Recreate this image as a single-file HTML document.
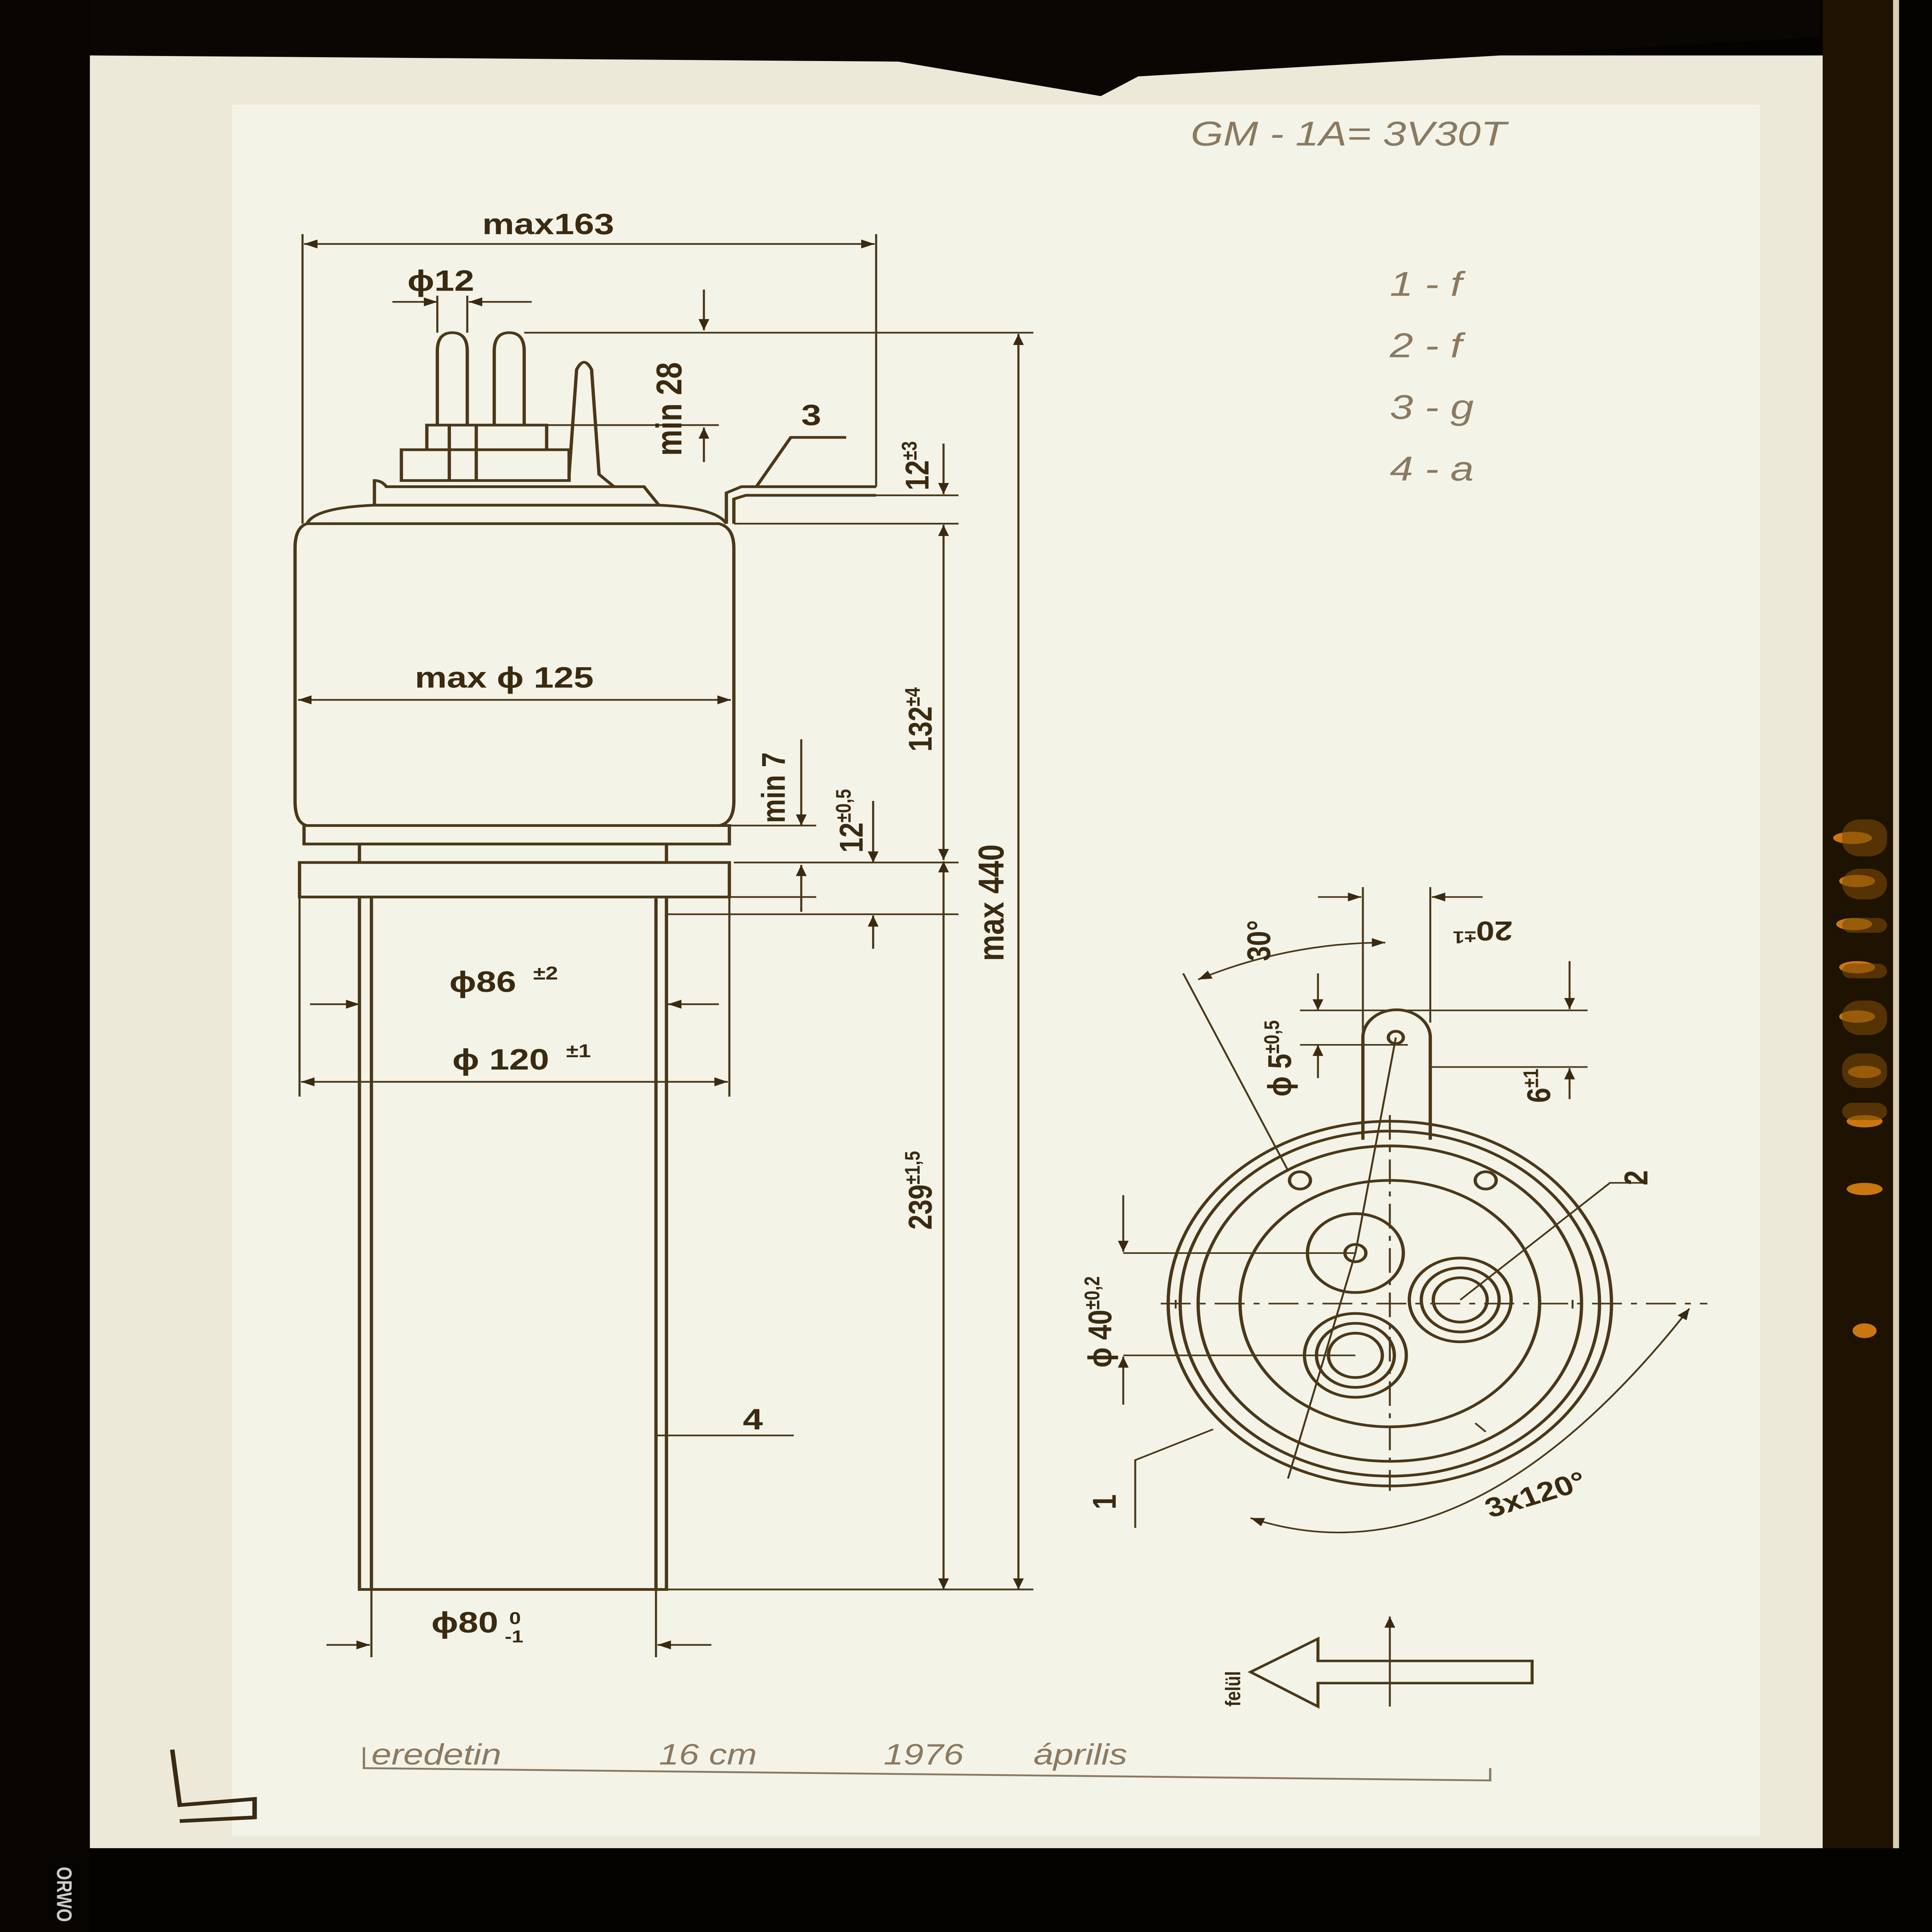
<!DOCTYPE html>
<html><head><meta charset="utf-8"><style>
html,body{margin:0;padding:0;background:#000;width:100%;height:100%;overflow:hidden;}
svg{display:block;position:fixed;left:0;top:0;width:100vw;height:100vh;}
text{font-family:"Liberation Sans",sans-serif;fill:#3a2a10;font-weight:bold;}
.h{font-family:"Liberation Sans",sans-serif;fill:#8a7a60;font-weight:normal;font-style:italic;}
</style></head><body>
<svg viewBox="0 0 1290 1568" preserveAspectRatio="none" xmlns="http://www.w3.org/2000/svg">
<defs>
<marker id="a" viewBox="0 0 10 10" refX="10" refY="5" markerWidth="14" markerHeight="9" markerUnits="userSpaceOnUse" orient="auto-start-reverse"><path d="M0,1 L10,5 L0,9z" fill="#3a2a10"/></marker>
</defs>
<rect width="1290" height="1568" fill="#050300"/>
<rect x="1217" y="0" width="48" height="1568" fill="#1e1200"/>
<rect x="1264" y="0" width="4" height="1568" fill="#d8d0b0"/>
<g fill="#e88a10" opacity="0.85">
<ellipse cx="1237" cy="680" rx="13" ry="5"/><ellipse cx="1240" cy="715" rx="12" ry="5"/><ellipse cx="1238" cy="750" rx="12" ry="5"/><ellipse cx="1240" cy="785" rx="12" ry="5"/><ellipse cx="1240" cy="825" rx="12" ry="5"/><ellipse cx="1245" cy="870" rx="11" ry="5"/><ellipse cx="1245" cy="910" rx="12" ry="5"/><ellipse cx="1245" cy="965" rx="12" ry="5"/><ellipse cx="1245" cy="1080" rx="8" ry="6"/>
</g>
<g fill="#7a4a08" opacity="0.6">
<rect x="1230" y="665" width="30" height="30" rx="12"/><rect x="1230" y="705" width="30" height="25" rx="12"/><rect x="1230" y="745" width="30" height="12" rx="6"/><rect x="1230" y="782" width="30" height="12" rx="6"/><rect x="1230" y="812" width="30" height="28" rx="12"/><rect x="1230" y="855" width="30" height="28" rx="12"/><rect x="1230" y="895" width="30" height="14" rx="7"/>
</g>
<rect x="60" y="45" width="1157" height="1455" fill="#ece9d9"/>
<rect x="155" y="85" width="1020" height="1405" fill="#f3f3e8"/>
<path d="M20,0 L1215,0 L1215,30 L760,62 L735,78 L600,50 L60,45 L20,40z" fill="#0a0702"/>
<rect x="0" y="1500" width="1290" height="68" fill="#050300"/>
<rect x="0" y="0" width="60" height="1568" fill="#070401"/>
<text x="38" y="1515" transform="rotate(90 38 1515)" style="fill:#ccc;font-size:14px">ORWO</text>

<g stroke="#4a3818" stroke-width="2.2" fill="none">
<path d="M292,345 L292,285 Q292,270 302,270 Q312,270 312,285 L312,345"/>
<path d="M330,345 L330,285 Q330,270 340,270 Q350,270 350,285 L350,345"/>
<path d="M380,385 L385,300 Q390,288 395,300 L400,385 L410,395"/>
<path d="M285,345 L365,345 L365,365 L285,365z M268,365 L380,365 L380,390 L268,390z M250,390 Q255,390 258,395 L430,395 L440,410 L250,410z"/>
<path d="M205,425 Q210,412 250,410 L440,410 Q478,412 485,425"/>
<path d="M300,345 L300,390 M318,345 L318,390"/>
<path d="M205,425 L480,425 Q490,428 490,445 L490,650 Q490,668 480,670 L205,670 Q197,668 197,650 L197,445 Q197,428 205,425z"/>
<path d="M203,670 L487,670 L487,685 L203,685z"/>
<rect x="240" y="685" width="205" height="15"/>
<rect x="200" y="700" width="287" height="28"/>
<path d="M240,728 L240,1290 L445,1290 L445,728 M248,728 L248,1290 M438,728 L438,1290"/>
<path d="M485,425 L485,400 L495,395 L585,395 M490,425 L490,405 L498,402 L585,402 M505,395 L528,355 L565,355"/>
</g>
<g stroke="#4a3818" stroke-width="1.4" fill="none">
<path d="M202,425 L202,190 M585,395 L585,190"/>
<path d="M203,198 L584,198" marker-start="url(#a)" marker-end="url(#a)"/>
<path d="M292,270 L292,240 M312,270 L312,240 M262,245 L292,245" marker-end="url(#a)"/>
<path d="M355,245 L313,245" marker-end="url(#a)"/>
<path d="M350,270 L690,270"/>
<path d="M470,235 L470,268" marker-end="url(#a)"/>
<path d="M470,375 L470,347" marker-end="url(#a)"/>
<path d="M350,345 L480,345"/>
<path d="M575,402 L640,402 M490,425 L640,425"/>
<path d="M630,360 L630,401" marker-end="url(#a)"/>
<path d="M630,426 L630,698" marker-start="url(#a)" marker-end="url(#a)"/>
<path d="M630,699 L630,1290" marker-start="url(#a)" marker-end="url(#a)"/>
<path d="M680,271 L680,1290" marker-start="url(#a)" marker-end="url(#a)"/>
<path d="M445,1290 L690,1290 M490,700 L640,700 M445,742 L640,742"/>
<path d="M199,568 L488,568" marker-start="url(#a)" marker-end="url(#a)"/>
<path d="M535,600 L535,670" marker-end="url(#a)"/>
<path d="M535,740 L535,702" marker-end="url(#a)"/>
<path d="M487,670 L545,670 M487,728 L545,728"/>
<path d="M583,650 L583,700" marker-end="url(#a)"/>
<path d="M583,770 L583,743" marker-end="url(#a)"/>
<path d="M240,728 L240,830 M445,728 L445,830 M200,728 L200,890 M487,728 L487,890"/>
<path d="M207,815 L240,815" marker-end="url(#a)"/>
<path d="M480,815 L446,815" marker-end="url(#a)"/>
<path d="M201,878 L486,878" marker-start="url(#a)" marker-end="url(#a)"/>
<path d="M248,1290 L248,1345 M438,1290 L438,1345"/>
<path d="M218,1335 L247,1335" marker-end="url(#a)"/>
<path d="M475,1335 L439,1335" marker-end="url(#a)"/>
<path d="M438,1165 L530,1165"/>
</g>
<g font-size="24">
<text x="322" y="190">max163</text>
<text x="272" y="236">ϕ12</text>
<text x="277" y="558">max ϕ 125</text>
<text x="300" y="805">ϕ86</text><text x="356" y="795" font-size="15">±2</text>
<text x="302" y="868">ϕ 120</text><text x="378" y="858" font-size="15">±1</text>
<text x="288" y="1325">ϕ80</text><text x="340" y="1318" font-size="14">0</text><text x="337" y="1333" font-size="14">-1</text>
<text x="535" y="345">3</text>
<text x="496" y="1160">4</text>
<text transform="translate(455,370) rotate(-90)">min 28</text>
<text transform="translate(620,398) rotate(-90)" font-size="22">12<tspan font-size="14" dy="-8">±3</tspan></text>
<text transform="translate(622,610) rotate(-90)" font-size="22">132<tspan font-size="14" dy="-8">±4</tspan></text>
<text transform="translate(670,780) rotate(-90)">max 440</text>
<text transform="translate(524,668) rotate(-90)" font-size="22">min 7</text>
<text transform="translate(576,692) rotate(-90)" font-size="22">12<tspan font-size="14" dy="-8">±0,5</tspan></text>
<text transform="translate(622,998) rotate(-90)" font-size="22">239<tspan font-size="14" dy="-8">±1,5</tspan></text>
</g>

<g stroke="#4a3818" stroke-width="2.2" fill="none">
<circle cx="928" cy="1058" r="148"/>
<circle cx="928" cy="1058" r="140"/>
<circle cx="928" cy="1058" r="128"/>
<circle cx="928" cy="1058" r="100"/>
<path d="M910,925 L910,842 A22,22 0 0 1 955,842 L955,925"/>
<circle cx="932" cy="842" r="5"/>
<circle cx="905" cy="1017" r="32"/><circle cx="905" cy="1017" r="7"/>
<circle cx="975" cy="1055" r="34"/><circle cx="975" cy="1055" r="26"/><circle cx="975" cy="1055" r="18"/>
<circle cx="905" cy="1100" r="34"/><circle cx="905" cy="1100" r="26"/><circle cx="905" cy="1100" r="18"/>
<circle cx="868" cy="958" r="7"/><circle cx="992" cy="958" r="7"/>
</g>
<g stroke="#4a3818" stroke-width="1.3" fill="none">
<path d="M775,1058 L1140,1058" stroke-dasharray="20 6 4 6"/>
<path d="M928,905 L928,1210" stroke-dasharray="20 6 4 6"/>
<path d="M860,950 L790,790 M905,1017 L860,1200 M932,842 L905,1017" />
<path d="M910,720 L910,840 M955,720 L955,830"/>
<path d="M880,728 L909,728" marker-end="url(#a)"/>
<path d="M990,728 L956,728" marker-end="url(#a)"/>
<path d="M800,795 Q860,765 925,765" marker-start="url(#a)" marker-end="url(#a)"/>
<path d="M880,790 L880,820" marker-end="url(#a)"/>
<path d="M880,875 L880,848" marker-end="url(#a)"/>
<path d="M868,820 L1060,820 M868,848 L940,848 M955,866 L1060,866"/>
<path d="M1048,780 L1048,819" marker-end="url(#a)"/>
<path d="M1048,892 L1048,867" marker-end="url(#a)"/>
<path d="M750,1017 L905,1017 M750,1100 L905,1100"/>
<path d="M750,970 L750,1016" marker-end="url(#a)"/>
<path d="M750,1140 L750,1101" marker-end="url(#a)"/>
<path d="M975,1055 L1075,960 L1100,960 M810,1160 L758,1185 L758,1240"/>
<path d="M835,1232 Q980,1290 1128,1062" marker-start="url(#a)" marker-end="url(#a)"/>
<path d="M785,1055 L785,1062 M1050,1055 L1050,1062 M985,1155 L992,1162"/>
<path d="M835,1357 L880,1330 L880,1348 L1023,1348 L1023,1366 L880,1366 L880,1385z" stroke-width="2"/>
<path d="M928,1385 L928,1312" marker-end="url(#a)"/>
</g>
<g font-size="22">
<text transform="translate(848,780) rotate(-90)">30°</text>
<text transform="translate(1010,748) rotate(180)">20<tspan font-size="14" dy="-8">±1</tspan></text>
<text transform="translate(862,890) rotate(-90)">ϕ 5<tspan font-size="14" dy="-8">±0,5</tspan></text>
<text transform="translate(1035,895) rotate(-90)">6<tspan font-size="14" dy="-8">±1</tspan></text>
<text transform="translate(742,1110) rotate(-90)">ϕ 40<tspan font-size="14" dy="-8">±0,2</tspan></text>
<text transform="translate(1100,962) rotate(-90)">2</text>
<text transform="translate(745,1225) rotate(-90)">1</text>
<text transform="translate(995,1232) rotate(-20)">3x120°</text>
<text transform="translate(828,1385) rotate(-90)" font-size="14">felül</text>
</g>
<g font-size="28">
<text x="795" y="118" class="h">GM - 1A= 3V30T</text>
<text x="928" y="240" class="h">1 - f</text>
<text x="928" y="290" class="h">2 - f</text>
<text x="928" y="340" class="h">3 - g</text>
<text x="928" y="390" class="h">4 - a</text>
</g>
<g font-size="24">
<text x="248" y="1432" class="h">eredetin</text>
<text x="440" y="1432" class="h">16 cm</text>
<text x="590" y="1432" class="h">1976</text>
<text x="690" y="1432" class="h">április</text>
</g>
<path d="M243,1418 L243,1435 L995,1445 L995,1435" stroke="#8a7a60" stroke-width="1.5" fill="none"/>
<path d="M115,1420 L120,1465 L170,1460 L170,1475 L120,1478" stroke="#3a2a10" stroke-width="3" fill="none"/>
</svg>
</body></html>
